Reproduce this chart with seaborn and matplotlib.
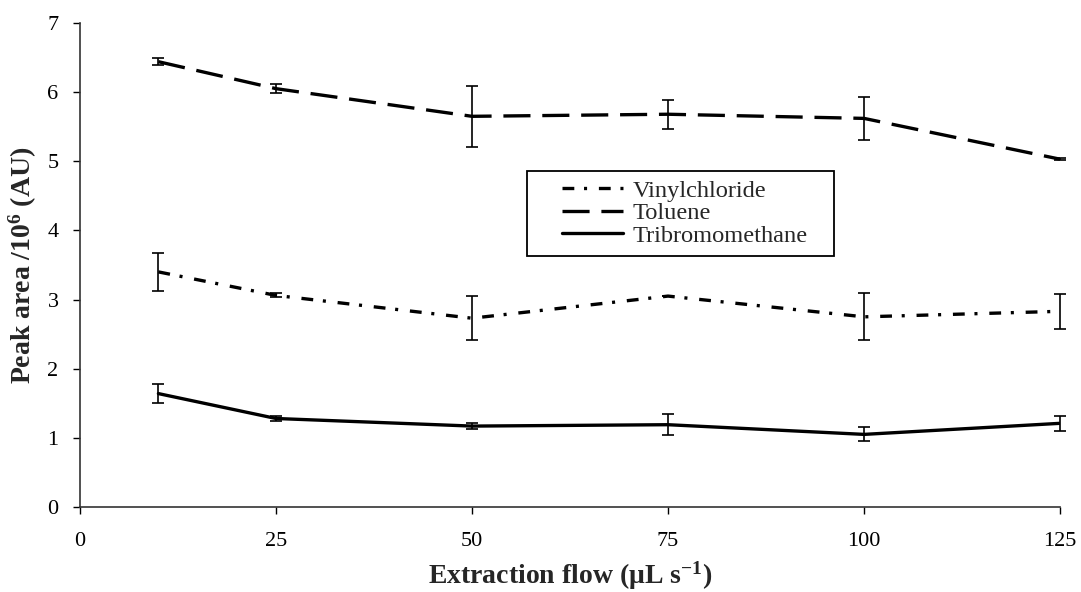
import pandas as pd
import matplotlib
matplotlib.use("Agg")
import matplotlib.pyplot as plt
from matplotlib.patches import Rectangle
import seaborn as sns

# Extraction flow (µL s-1) and mean peak areas (x10^6 AU) with standard deviations
flow = [10, 25, 50, 75, 100, 125]
vinylchloride = [3.40, 3.06, 2.73, 3.05, 2.75, 2.83]
vinylchloride_sd = [0.27, 0.03, 0.32, 0.0, 0.34, 0.25]
toluene = [6.44, 6.05, 5.65, 5.68, 5.62, 5.03]
toluene_sd = [0.05, 0.07, 0.44, 0.21, 0.31, 0.01]
tribromomethane = [1.64, 1.28, 1.17, 1.19, 1.05, 1.21]
tribromomethane_sd = [0.14, 0.03, 0.04, 0.15, 0.10, 0.11]
x_ticks = [0, 25, 50, 75, 100, 125]
y_ticks = [0, 1, 2, 3, 4, 5, 6, 7]

sns.set_style("ticks")
plt.rcParams["font.family"] = ["Liberation Serif", "DejaVu Serif"]
plt.rcParams["mathtext.default"] = "regular"
plt.rcParams["lines.scale_dashes"] = False

series = [
    ("Vinylchloride", vinylchloride, vinylchloride_sd, (8.5, 7.0, 2.2, 8.5)),
    ("Toluene", toluene, toluene_sd, (19.5, 8.5)),
    ("Tribromomethane", tribromomethane, tribromomethane_sd, ""),
]

data = pd.concat(
    [pd.DataFrame({"flow": flow, "area": vals, "compound": name})
     for name, vals, _, _ in series],
    ignore_index=True,
)

fig = plt.figure(figsize=(10.81, 5.92), dpi=100)
ax = fig.add_axes([0.074, 0.1436, 0.9066, 0.8176])

sns.lineplot(
    data=data, x="flow", y="area", style="compound",
    dashes={name: d for name, _, _, d in series},
    color="black", linewidth=2.4, sort=False, estimator=None, ax=ax,
)

for name, vals, sd, _ in series:
    eb = ax.errorbar(flow, vals, yerr=sd, fmt="none", ecolor="black",
                     elinewidth=1.2, capsize=4.3, capthick=1.2, zorder=3)
    for artist in eb.lines[1] + eb.lines[2]:
        artist.set_clip_on(False)

ax.set_xlim(0, 125)
ax.set_ylim(0, 7)
ax.set_xticks(x_ticks)
ax.set_yticks(y_ticks)
ax.tick_params(axis="both", labelsize=16, direction="out", length=5, width=1.0, colors="black")
ax.tick_params(axis="x", pad=13)
ax.tick_params(axis="y", pad=10.5)
for side in ["left", "bottom"]:
    ax.spines[side].set_linewidth(1.2)
    ax.spines[side].set_color("#333333")
sns.despine(ax=ax)

ax.set_xlabel("Extraction flow (\u03bcL s$^{-1}$)", fontsize=20, fontweight="bold", labelpad=6)
ax.set_ylabel("Peak area /10$^{6}$ (AU)", fontsize=20, fontweight="bold", labelpad=6)

leg = ax.legend(
    loc="upper left", bbox_to_anchor=(0.483, 0.694), fontsize=17.6,
    frameon=False, handlelength=2.5,
    handletextpad=0.4, borderpad=0.35, labelspacing=0.02, borderaxespad=0,
)
for line in leg.get_lines():
    line.set_linewidth(2.4)

# Boxed legend frame: wider side margins than the legend's own padding
fig.canvas.draw()
bb = leg.get_window_extent().transformed(fig.transFigure.inverted())
left_pad, right_pad = 0.0245, 0.0163
fig.add_artist(Rectangle(
    (bb.x0 - left_pad, bb.y0), bb.width + left_pad + right_pad, bb.height,
    transform=fig.transFigure, fill=False, edgecolor="black", linewidth=1.3,
))

fig.savefig("out.png", dpi=100)
